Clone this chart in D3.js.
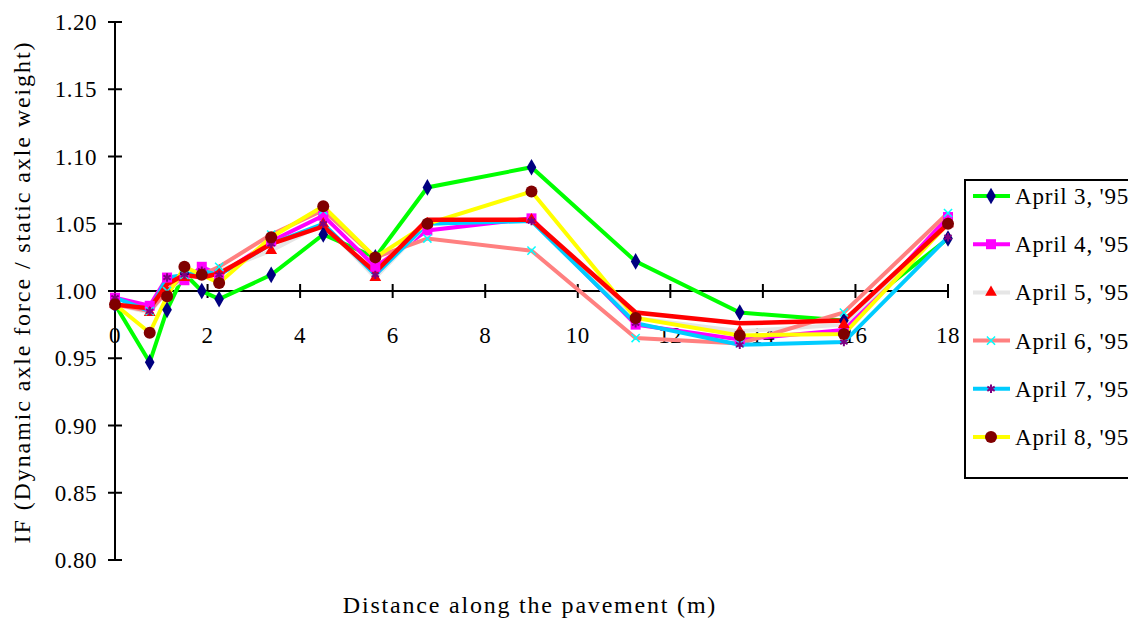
<!DOCTYPE html>
<meta charset="utf-8">
<script src="https://d3js.org/d3.v7.min.js"></script>
<style>
  body { margin: 0; background: #fff; }
  text { font-family: "Liberation Serif", "Times New Roman", serif; }
</style>
<div id="chart"></div>
<script>

// distance along pavement (m)
var distance = [0, 0.75, 1.125, 1.5, 1.875, 2.25, 3.375, 4.5, 5.625, 6.75, 9, 11.25, 13.5, 15.75, 18];

var april3 = [0.990, 0.947, 0.986, 1.013, 1.000, 0.994, 1.012, 1.042, 1.025, 1.077, 1.092, 1.022, 0.984, 0.978, 1.039];
var april4 = [0.995, 0.989, 1.010, 1.008, 1.018, 1.012, 1.037, 1.056, 1.018, 1.045, 1.054, 0.975, 0.964, 0.971, 1.055];
var april5 = [0.990, 0.984, 1.000, 1.010, 1.012, 1.015, 1.030, 1.050, 1.010, 1.050, 1.053, 0.980, 0.970, 0.975, 1.050];
var april6 = [0.990, 0.985, 1.000, 1.012, 1.012, 1.018, 1.042, 1.060, 1.025, 1.039, 1.030, 0.965, 0.961, 0.984, 1.058];
var april7 = [0.995, 0.985, 1.010, 1.012, 1.015, 1.012, 1.035, 1.050, 1.012, 1.050, 1.052, 0.976, 0.960, 0.962, 1.040];
var april8 = [0.990, 0.969, 0.996, 1.018, 1.012, 1.006, 1.040, 1.063, 1.025, 1.050, 1.074, 0.980, 0.967, 0.968, 1.050];
// red line drawn on the chart without a legend entry
var extra  = [0.990, 0.987, 1.005, 1.012, 1.010, 1.013, 1.035, 1.048, 1.014, 1.053, 1.053, 0.984, 0.976, 0.978, 1.050];

var yTicks = [0.80, 0.85, 0.90, 0.95, 1.00, 1.05, 1.10, 1.15, 1.20];
var xTicks = [0, 2, 4, 6, 8, 10, 12, 14, 16, 18];

var series = [
  {name: "April 3, '95", values: april3, line: "#00ff00", fill: "#000080", shape: "diamond"},
  {name: "April 4, '95", values: april4, line: "#ff00ff", fill: "#ff00ff", shape: "square"},
  {name: "April 5, '95", values: april5, line: "#e6e6e6", fill: "#ff0000", shape: "triangle"},
  {name: "April 6, '95", values: april6, line: "#ff8080", fill: "#00ffff", shape: "x"},
  {name: "April 7, '95", values: april7, line: "#00ccff", fill: "#800080", shape: "star"},
  {name: "April 8, '95", values: april8, line: "#ffff00", fill: "#800000", shape: "circle"}
];

var width = 1128, height = 622;

var svg = d3.select("#chart").append("svg")
  .attr("width", width)
  .attr("height", height);

var x = d3.scaleLinear().domain([0, 18]).range([115, 948]);
var y = d3.scaleLinear().domain([0.80, 1.20]).range([560, 22]);

// axes
svg.append("line")
  .attr("x1", x(0)).attr("x2", x(0))
  .attr("y1", y(1.20)).attr("y2", y(0.80))
  .attr("stroke", "#000").attr("stroke-width", 2);
svg.append("line")
  .attr("x1", x(0)).attr("x2", x(18))
  .attr("y1", y(1.0)).attr("y2", y(1.0))
  .attr("stroke", "#000").attr("stroke-width", 2);

svg.selectAll(".ytick").data(yTicks).enter().append("line")
  .attr("x1", x(0) - 7).attr("x2", x(0) + 7)
  .attr("y1", d => y(d)).attr("y2", d => y(d))
  .attr("stroke", "#000").attr("stroke-width", 2);
svg.selectAll(".ylab").data(yTicks).enter().append("text")
  .attr("x", 97).attr("y", d => y(d))
  .attr("dy", "0.35em")
  .attr("text-anchor", "end")
  .style("font-size", "23px")
  .style("letter-spacing", "0.5px")
  .text(d => d.toFixed(2));

svg.selectAll(".xtick").data(xTicks).enter().append("line")
  .attr("x1", d => x(d)).attr("x2", d => x(d))
  .attr("y1", y(1.0) - 7).attr("y2", y(1.0) + 7)
  .attr("stroke", "#000").attr("stroke-width", 2);
svg.selectAll(".xlab").data(xTicks).enter().append("text")
  .attr("x", d => x(d)).attr("y", y(1.0) + 52)
  .attr("text-anchor", "middle")
  .style("font-size", "23px")
  .style("letter-spacing", "0.5px")
  .text(d => d);

// lines
var line = d3.line()
  .x((d, i) => x(distance[i]))
  .y(d => y(d));

series.forEach(function(s) {
  svg.append("path")
    .attr("d", line(s.values))
    .attr("fill", "none")
    .attr("stroke", s.line)
    .attr("stroke-width", 4);
});
svg.append("path")
  .attr("d", line(extra))
  .attr("fill", "none")
  .attr("stroke", "#ff0000")
  .attr("stroke-width", 4.5);

// markers
function drawMarker(g, s, cx, cy) {
  if (s.shape == "diamond") {
    g.append("path").attr("d", d3.symbol(d3.symbolDiamond, 80)())
      .attr("transform", "translate(" + cx + "," + cy + ")").attr("fill", s.fill);
  } else if (s.shape == "square") {
    g.append("rect").attr("x", cx - 5).attr("y", cy - 5)
      .attr("width", 10).attr("height", 10).attr("fill", s.fill);
  } else if (s.shape == "triangle") {
    g.append("path").attr("d", d3.symbol(d3.symbolTriangle, 60)())
      .attr("transform", "translate(" + cx + "," + cy + ")").attr("fill", s.fill);
  } else if (s.shape == "x") {
    g.append("path").attr("d", d3.symbol(d3.symbolTimes, 45)())
      .attr("transform", "translate(" + cx + "," + cy + ")")
      .attr("fill", "none").attr("stroke", s.fill).attr("stroke-width", 1.5);
  } else if (s.shape == "star") {
    g.append("path").attr("d", d3.symbol(d3.symbolAsterisk, 50)())
      .attr("transform", "translate(" + cx + "," + cy + ")")
      .attr("fill", "none").attr("stroke", s.fill).attr("stroke-width", 2);
  } else {
    g.append("circle").attr("cx", cx).attr("cy", cy).attr("r", 6).attr("fill", s.fill);
  }
}

series.forEach(function(s) {
  var g = svg.append("g");
  s.values.forEach(function(v, i) {
    drawMarker(g, s, x(distance[i]), y(v));
  });
});

// legend
var legend = svg.append("g");
legend.append("rect")
  .attr("x", 965).attr("y", 180)
  .attr("width", 175).attr("height", 298)
  .attr("fill", "#fff")
  .attr("stroke", "#000").attr("stroke-width", 2);

series.forEach(function(s, i) {
  var ly = 196 + i * 48.2;
  legend.append("line")
    .attr("x1", 973).attr("x2", 1010)
    .attr("y1", ly).attr("y2", ly)
    .attr("stroke", s.line).attr("stroke-width", 4);
  drawMarker(legend, s, 991, ly);
  legend.append("text")
    .attr("x", 1015).attr("y", ly)
    .attr("dy", "0.35em")
    .style("font-size", "23px")
    .style("letter-spacing", "0.8px")
    .text(s.name);
});

// axis titles
svg.append("text")
  .attr("x", 530).attr("y", 613)
  .attr("text-anchor", "middle")
  .style("font-size", "24px")
  .style("letter-spacing", "1.8px")
  .text("Distance along the pavement (m)");

svg.append("text")
  .attr("transform", "translate(30,292) rotate(-90)")
  .attr("text-anchor", "middle")
  .style("font-size", "24px")
  .style("letter-spacing", "1.9px")
  .text("IF (Dynamic axle force / static axle weight)");

</script>
